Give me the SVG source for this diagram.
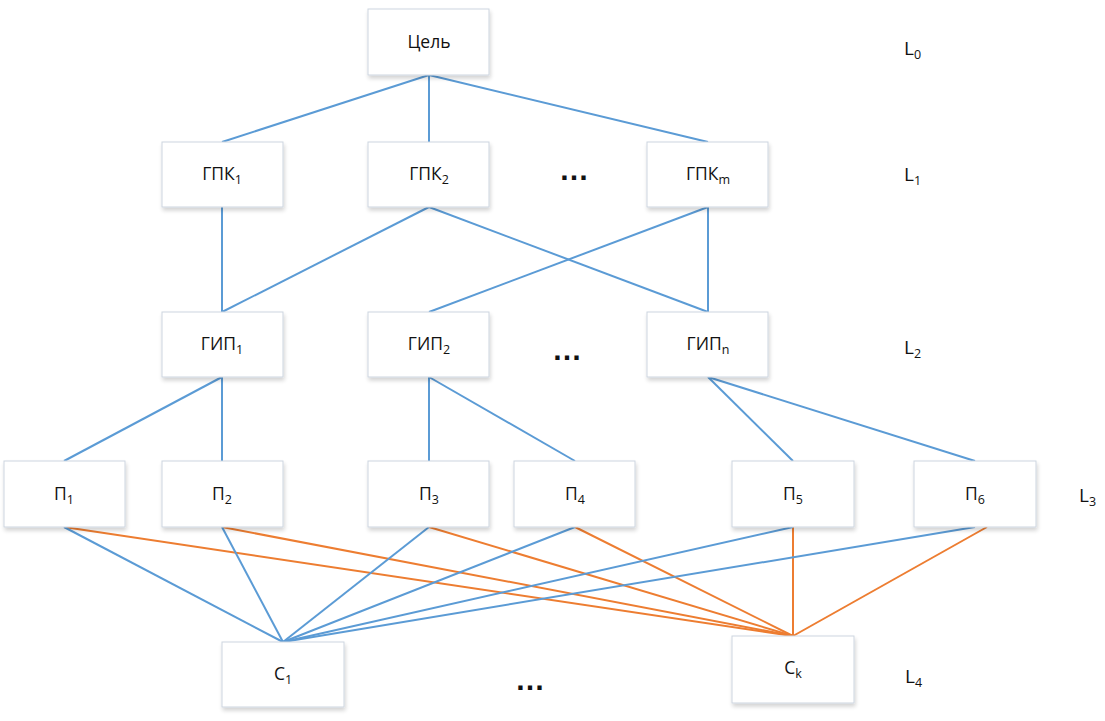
<svg xmlns="http://www.w3.org/2000/svg" width="1105" height="721" viewBox="0 0 1105 721">
<defs>
<filter id="sh" x="-10%" y="-10%" width="125%" height="135%">
<feGaussianBlur in="SourceAlpha" stdDeviation="2"/>
<feOffset dx="1" dy="3"/>
<feComponentTransfer><feFuncA type="linear" slope="0.18"/></feComponentTransfer>
<feMerge><feMergeNode/><feMergeNode in="SourceGraphic"/></feMerge>
</filter>
</defs>
<style>
.box{fill:#ffffff;stroke:#cdd5df;stroke-width:1;filter:url(#sh)}
.t{font-family:"Open Sans","Liberation Sans",sans-serif;font-size:17.5px;fill:#111;text-anchor:middle}
.lv{font-family:"Open Sans","Liberation Sans",sans-serif;font-size:19px;fill:#111}
.sub{font-size:12.5px}
.b{stroke:#5b9bd5;stroke-width:2;fill:none}
.o{stroke:#ed7d31;stroke-width:2;fill:none}
.dots{font-family:"Liberation Sans",sans-serif;font-size:30px;font-weight:bold;fill:#111;text-anchor:middle}
</style>
<rect width="1105" height="721" fill="#ffffff"/>
<g id="connectors">
<line class="b" x1="429" y1="75" x2="222" y2="142"/>
<line class="b" x1="429" y1="75" x2="429" y2="142"/>
<line class="b" x1="429" y1="75" x2="708" y2="142"/>
<line class="b" x1="222" y1="207" x2="222" y2="312"/>
<line class="b" x1="429" y1="207" x2="222" y2="312"/>
<line class="b" x1="429" y1="207" x2="708" y2="312"/>
<line class="b" x1="708" y1="207" x2="429" y2="312"/>
<line class="b" x1="708" y1="207" x2="708" y2="312"/>
<line class="b" x1="222" y1="377" x2="64" y2="461"/>
<line class="b" x1="222" y1="377" x2="222" y2="461"/>
<line class="b" x1="429" y1="377" x2="429" y2="461"/>
<line class="b" x1="429" y1="377" x2="575" y2="461"/>
<line class="b" x1="708" y1="377" x2="793" y2="461"/>
<line class="b" x1="708" y1="377" x2="975" y2="461"/>
<line class="o" x1="64" y1="527" x2="793" y2="636"/>
<line class="o" x1="222" y1="527" x2="793" y2="636"/>
<line class="o" x1="429" y1="527" x2="793" y2="636"/>
<line class="o" x1="575" y1="527" x2="793" y2="636"/>
<line class="o" x1="793" y1="527" x2="793" y2="636"/>
<line class="o" x1="987" y1="527" x2="793" y2="636"/>
<line class="b" x1="64" y1="527" x2="283" y2="642"/>
<line class="b" x1="222" y1="527" x2="283" y2="642"/>
<line class="b" x1="429" y1="527" x2="283" y2="642"/>
<line class="b" x1="575" y1="527" x2="283" y2="642"/>
<line class="b" x1="793" y1="527" x2="283" y2="642"/>
<line class="b" x1="975" y1="527" x2="283" y2="642"/>
</g>
<g id="goal"><rect class="box" x="368" y="9" width="121" height="66"/><text class="t" x="429" y="48">Цель</text></g>
<g id="gpk1"><rect class="box" x="162" y="142" width="121" height="65"/><text class="t" x="222" y="180">ГПК<tspan class="sub" dy="4">1</tspan></text></g>
<g id="gpk2"><rect class="box" x="368" y="142" width="121" height="65"/><text class="t" x="429" y="180">ГПК<tspan class="sub" dy="4">2</tspan></text></g>
<g id="gpkm"><rect class="box" x="647" y="142" width="121" height="65"/><text class="t" x="708" y="180">ГПК<tspan class="sub" dy="4">m</tspan></text></g>
<g id="gip1"><rect class="box" x="162" y="312" width="121" height="65"/><text class="t" x="222" y="350">ГИП<tspan class="sub" dy="4">1</tspan></text></g>
<g id="gip2"><rect class="box" x="368" y="312" width="121" height="65"/><text class="t" x="429" y="350">ГИП<tspan class="sub" dy="4">2</tspan></text></g>
<g id="gipn"><rect class="box" x="647" y="312" width="121" height="65"/><text class="t" x="708" y="350">ГИП<tspan class="sub" dy="4">n</tspan></text></g>
<g id="p1"><rect class="box" x="4" y="461" width="121" height="66"/><text class="t" x="64" y="500">П<tspan class="sub" dy="4">1</tspan></text></g>
<g id="p2"><rect class="box" x="162" y="461" width="121" height="66"/><text class="t" x="222" y="500">П<tspan class="sub" dy="4">2</tspan></text></g>
<g id="p3"><rect class="box" x="368" y="461" width="121" height="66"/><text class="t" x="429" y="500">П<tspan class="sub" dy="4">3</tspan></text></g>
<g id="p4"><rect class="box" x="514" y="461" width="121" height="66"/><text class="t" x="575" y="500">П<tspan class="sub" dy="4">4</tspan></text></g>
<g id="p5"><rect class="box" x="732" y="461" width="122" height="66"/><text class="t" x="793" y="500">П<tspan class="sub" dy="4">5</tspan></text></g>
<g id="p6"><rect class="box" x="914" y="461" width="122" height="66"/><text class="t" x="975" y="500">П<tspan class="sub" dy="4">6</tspan></text></g>
<g id="c1"><rect class="box" x="222" y="642" width="122" height="65"/><text class="t" x="283" y="680">С<tspan class="sub" dy="4">1</tspan></text></g>
<g id="ck"><rect class="box" x="732" y="636" width="122" height="67"/><text class="t" x="793" y="674">С<tspan class="sub" dy="4">k</tspan></text></g>
<g id="dots">
<text class="dots" x="574" y="180">…</text>
<text class="dots" x="567" y="360">…</text>
<text class="dots" x="530" y="690">…</text>
</g>
<g id="levels">
<text class="lv" x="904" y="55">L<tspan class="sub" dy="4">0</tspan></text>
<text class="lv" x="904" y="181">L<tspan class="sub" dy="4">1</tspan></text>
<text class="lv" x="904" y="354">L<tspan class="sub" dy="4">2</tspan></text>
<text class="lv" x="1079" y="502">L<tspan class="sub" dy="4">3</tspan></text>
<text class="lv" x="905" y="683">L<tspan class="sub" dy="4">4</tspan></text>
</g>
</svg>
